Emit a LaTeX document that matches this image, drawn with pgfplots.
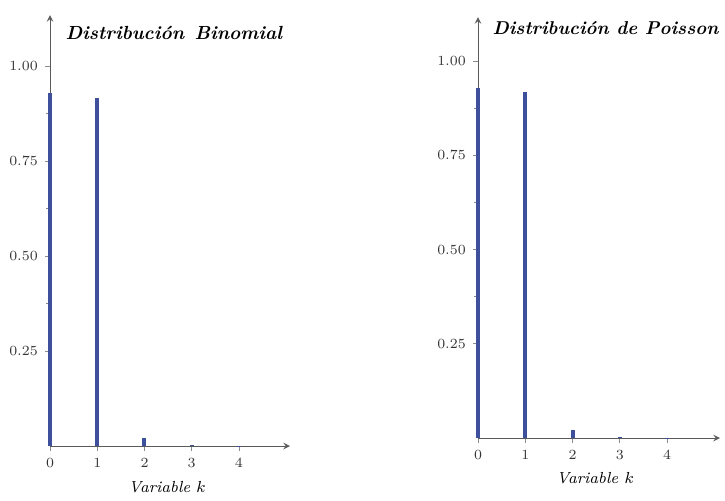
\documentclass[border=0pt]{standalone}
\usepackage{pgfplots}
\pgfplotsset{compat=1.18}
\definecolor{barblue}{RGB}{62,80,155}
\definecolor{axgray}{RGB}{90,90,90}
\begin{document}
\begin{tikzpicture}
\useasboundingbox (0,0) rectangle (362.5pt,250pt);
\pgfplotsset{
  mystyle/.style={
    scale only axis,
    axis lines=left,
    axis line style={axgray,line width=0.5pt,-stealth},
    clip=false,
    xmin=0, ymin=0,
    xtick={0,1,2,3,4},
    ytick={0.25,0.5,0.75,1.0},
    minor y tick num=1,
    tick align=outside,
    yticklabel style={/pgf/number format/.cd,fixed,fixed zerofill,precision=2},
    tick label style={font=\scriptsize, text=black!80},
    tick style={axgray!70, line width=0.4pt},
    major tick length=2.5pt, minor tick length=2pt,
  }
}
% Left axis: Binomial
\begin{axis}[mystyle,
  at={(25pt,27pt)}, anchor=south west,
  width=120pt, height=215.5pt,
  xmax=5.08, ymax=1.134]
\addplot[ycomb, barblue, line width=2pt, mark=none] coordinates {(0,0.929) (1,0.916) (2,0.02) (3,0.002) (4,0.001)};
\node[anchor=west, inner sep=0pt, font=\fontsize{9.5}{11}\selectfont\bfseries\itshape] at (axis cs:0.32,1.087) {Distribución\hspace{0.55em}Binomial};
\node[font=\footnotesize\itshape] at (axis cs:2.48,-0.108) {Variable $k$};
\end{axis}
% Right axis: Poisson
\begin{axis}[mystyle,
  at={(239pt,31pt)}, anchor=south west,
  width=121pt, height=210.5pt,
  xmax=5.12, ymax=1.117]
\addplot[ycomb, barblue, line width=2pt, mark=none] coordinates {(0,0.928) (1,0.918) (2,0.02) (3,0.002) (4,0.001)};
\node[anchor=west, inner sep=0pt, font=\fontsize{9.3}{11}\selectfont\bfseries\itshape] at (axis cs:0.30,1.088) {Distribución de Poisson};
\node[font=\footnotesize\itshape] at (axis cs:2.48,-0.106) {Variable $k$};
\end{axis}
\end{tikzpicture}
\end{document}
